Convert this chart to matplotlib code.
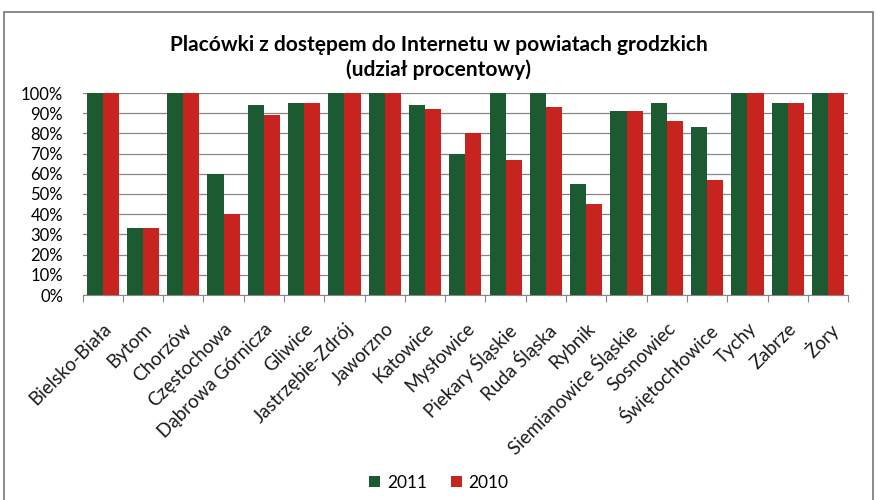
import numpy as np
import matplotlib
matplotlib.use('Agg')
import matplotlib.pyplot as plt
from matplotlib.ticker import PercentFormatter
from matplotlib.transforms import ScaledTranslation

plt.rcParams['font.family'] = ['Lato', 'DejaVu Sans']

cities = ['Bielsko-Biała', 'Bytom', 'Chorzów', 'Częstochowa', 'Dąbrowa Górnicza',
          'Gliwice', 'Jastrzębie-Zdrój', 'Jaworzno', 'Katowice', 'Mysłowice',
          'Piekary Śląskie', 'Ruda Śląska', 'Rybnik', 'Siemianowice Śląskie',
          'Sosnowiec', 'Świętochłowice', 'Tychy', 'Zabrze', 'Żory']
v2011 = [100, 33, 100, 60, 94, 95, 100, 100, 94, 70, 100, 100, 55, 91, 95, 83, 100, 95, 100]
v2010 = [100, 33, 100, 40, 89, 95, 100, 100, 92, 80, 67, 93, 45, 91, 86, 57, 100, 95, 100]

GREEN = '#1c5a32'
RED = '#c8241f'

fig = plt.figure(figsize=(8.78, 5), dpi=100)
ax = fig.add_axes([0.094, 0.41, 0.872, 0.404])

x = np.arange(len(cities))
w = 0.4
ax.bar(x - w/2, v2011, w, color=GREEN, label='2011', zorder=3)
ax.bar(x + w/2, v2010, w, color=RED, label='2010', zorder=3)

ax.set_xlim(-0.5, len(cities) - 0.5)
ax.set_ylim(0, 100)
ax.set_yticks(np.arange(0, 101, 10))
ax.yaxis.set_major_formatter(PercentFormatter(decimals=0))
ax.grid(axis='y', color='#888888', lw=0.9, zorder=0)

# ticks at category boundaries; names drawn as rotated text under each group
ax.set_xticks(np.arange(-0.5, len(cities), 1))
ax.set_xticklabels([])
ax.tick_params(axis='x', which='major', length=5, color='#888888')
ax.tick_params(axis='y', length=0, labelsize=12, pad=14)

lab_trans = ax.get_xaxis_transform() + ScaledTranslation(0.0, -0.25, fig.dpi_scale_trans)
for xi, name in zip(x, cities):
    ax.text(xi, 0, name, transform=lab_trans, rotation=45, rotation_mode='anchor',
            ha='right', va='top', fontsize=13.5, color='#1a1a1a')

for side in ['top', 'right', 'left']:
    ax.spines[side].set_visible(False)
ax.spines['bottom'].set_color('#888888')

fig.text(0.5, 0.91, 'Placówki z dostępem do Internetu w powiatach grodzkich',
         ha='center', va='center', fontsize=15, fontweight='bold')
fig.text(0.5, 0.86, '(udział procentowy)', ha='center', va='center',
         fontsize=15, fontweight='bold')

fig.legend(loc='center', bbox_to_anchor=(0.5, 0.034), ncol=2, frameon=False,
           fontsize=12.5, handlelength=0.6, handleheight=0.6, handletextpad=0.4,
           columnspacing=1.4)

fig.patches.append(plt.Rectangle((0.004, -0.02), 0.99, 0.997, transform=fig.transFigure,
                                 fill=False, edgecolor='#777777', lw=1.2))

fig.savefig('out.png', dpi=100)
